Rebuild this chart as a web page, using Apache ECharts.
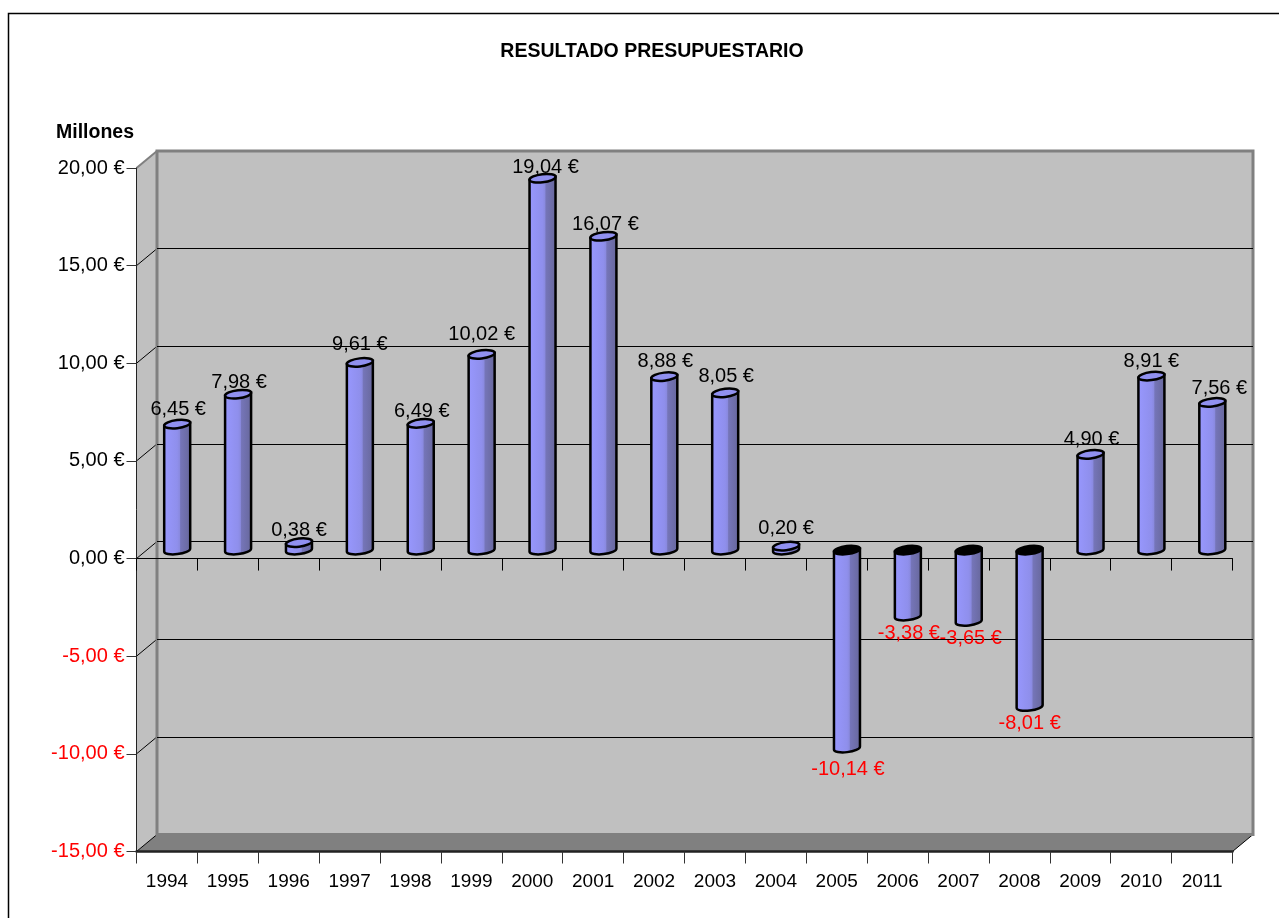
<!DOCTYPE html>
<html>
<head>
<meta charset="utf-8">
<title>Resultado presupuestario</title>
<style>
html, body { margin: 0; padding: 0; background: #fff; }
#chart { width: 1279px; height: 918px; }
</style>
<script src="https://cdn.jsdelivr.net/npm/echarts@6/dist/echarts.min.js"></script>
</head>
<body>
<div id="chart"></div>
<script>
var years = ['1994', '1995', '1996', '1997', '1998', '1999', '2000', '2001', '2002',
    '2003', '2004', '2005', '2006', '2007', '2008', '2009', '2010', '2011'];
var resultado = [6.45, 7.98, 0.38, 9.61, 6.49, 10.02, 19.04, 16.07, 8.88,
    8.05, 0.20, -10.14, -3.38, -3.65, -8.01, 4.90, 8.91, 7.56];
var axisValues = [20, 15, 10, 5, 0, -5, -10, -15];

// etiquetas: separacion respecto a la barra (px), el original no es regular
var labelGap = [16, 13, 13, 19, 13, 21, 12, 13, 16, 17, 19, 20, 16, 16, 16, 16, 16, 15];
var labelDx = [1, 1, 0, 0, 1, 0, 3, 2, 1, 1, 0, 1, 1, 2, 0, 1, 0, 7];

var FONT = '"Liberation Sans", Arial, sans-serif';
// fondo 3D: desplazamiento de la pared trasera respecto al plano frontal
var DEPTH_X = 20.5, DEPTH_Y = -17;
var GRID_LEFT = 136.5, GRID_TOP = 168, GRID_RIGHT = 46.5, GRID_BOTTOM = 66.5;

function euro(v) {
    return v.toFixed(2).replace('.', ',') + ' €';
}

function renderWalls(params, api) {
    var tl = api.coord([0, 20]), bl = api.coord([0, -15]);
    var left = params.coordSys.x, right = left + params.coordSys.width;
    var top = tl[1], bottom = bl[1];
    var children = [{
        type: 'polygon',
        shape: { points: [[left, top], [left + DEPTH_X, top + DEPTH_Y], [left + DEPTH_X, bottom + DEPTH_Y], [left, bottom]] },
        style: { fill: '#c0c0c0' }
    }, {
        type: 'polygon',
        shape: { points: [[left, bottom], [left + DEPTH_X, bottom + DEPTH_Y], [right + DEPTH_X, bottom + DEPTH_Y], [right, bottom]] },
        style: { fill: '#808080' }
    }, {
        type: 'line',
        shape: { x1: right, y1: bottom, x2: right + DEPTH_X, y2: bottom + DEPTH_Y },
        style: { stroke: '#000', lineWidth: 1 }
    }];
    axisValues.forEach(function (v) {
        var y = api.coord([0, v])[1];
        children.push({
            type: 'line',
            shape: { x1: left, y1: y, x2: left + DEPTH_X, y2: y + DEPTH_Y },
            style: { stroke: v === 20 ? '#808080' : '#000', lineWidth: v === 20 ? 2 : 1 }
        });
    });
    return { type: 'group', children: children };
}

function renderBar(params, api) {
    var i = api.value(0), v = api.value(1);
    var p = api.coord([i, v]), zero = api.coord([i, 0]);
    var cx = p[0] + DEPTH_X / 2;
    var yVal = p[1] + DEPTH_Y / 2, yZero = zero[1] + DEPTH_Y / 2;
    var yTop = Math.min(yVal, yZero), yBot = Math.max(yVal, yZero);
    var hw = 13, ry = 4, tilt = 1.5;
    var l = cx - hw, r = cx + hw;
    var body = 'M' + l + ' ' + (yTop + tilt)
        + 'L' + l + ' ' + (yBot + tilt)
        + 'A' + hw + ' ' + ry + ' -7 0 0 ' + r + ' ' + (yBot - tilt)
        + 'L' + r + ' ' + (yTop - tilt) + 'Z';
    var cap = 'M' + l + ' ' + (yTop + tilt)
        + 'A' + hw + ' ' + ry + ' -7 1 1 ' + r + ' ' + (yTop - tilt)
        + 'A' + hw + ' ' + ry + ' -7 1 1 ' + l + ' ' + (yTop + tilt) + 'Z';
    var neg = v < 0;
    return {
        type: 'group',
        children: [{
            type: 'path',
            shape: { pathData: body },
            style: {
                fill: new echarts.graphic.LinearGradient(0, 0, 1, 0, [
                    { offset: 0, color: '#9898ff' },
                    { offset: 0.5, color: '#8f8fec' },
                    { offset: 0.58, color: '#8a8ae0' },
                    { offset: 0.62, color: '#7575b8' },
                    { offset: 1, color: '#666699' }
                ]),
                stroke: '#000',
                lineWidth: 2.5
            }
        }, {
            type: 'path',
            shape: { pathData: cap },
            style: { fill: neg ? '#000' : '#9090f0', stroke: '#000', lineWidth: 2.5 }
        }, {
            type: 'text',
            x: cx + labelDx[i],
            y: (neg ? yBot + labelGap[i] : yTop - labelGap[i]) + 1,
            style: {
                text: euro(v),
                fill: neg ? '#ff0000' : '#000',
                font: '20px ' + FONT,
                textAlign: 'center',
                textVerticalAlign: 'middle'
            }
        }]
    };
}

var myChart = echarts.init(document.getElementById('chart'));
var option = {
    animation: false,
    backgroundColor: '#fff',
    title: [{
        text: 'RESULTADO PRESUPUESTARIO',
        left: 647,
        top: 37,
        textAlign: 'center',
        textStyle: { fontFamily: FONT, fontSize: 19.5, fontWeight: 'bold', color: '#000' }
    }, {
        text: 'Millones',
        left: 51,
        top: 118,
        textStyle: { fontFamily: FONT, fontSize: 19.5, fontWeight: 'bold', color: '#000' }
    }],
    graphic: [{
        type: 'polyline',
        z: 10,
        shape: { points: [[8.5, 918], [8.5, 13.5], [1279, 13.5]] },
        style: { fill: null, stroke: '#000', lineWidth: 1.5 }
    }],
    grid: [{
        left: GRID_LEFT, top: GRID_TOP, right: GRID_RIGHT, bottom: GRID_BOTTOM
    }, {
        // pared trasera
        show: true,
        left: GRID_LEFT + DEPTH_X, top: GRID_TOP + DEPTH_Y,
        right: GRID_RIGHT - DEPTH_X, bottom: GRID_BOTTOM - DEPTH_Y,
        backgroundColor: '#c0c0c0',
        borderColor: '#808080',
        borderWidth: 3
    }],
    xAxis: [{
        type: 'category',
        gridIndex: 0,
        data: years,
        position: 'bottom',
        axisLine: { onZero: false, lineStyle: { color: '#222', width: 2.5 } },
        axisTick: { show: true, length: 12, lineStyle: { color: '#333', width: 1 } },
        axisLabel: { interval: 0, margin: 21, color: '#000', fontFamily: FONT, fontSize: 19 },
        splitLine: { show: false }
    }, {
        // eje en el cero, con marcas y sin etiquetas
        type: 'category',
        gridIndex: 0,
        data: years,
        position: 'bottom',
        axisLine: { onZero: true, lineStyle: { color: '#000', width: 1 } },
        axisTick: { show: true, length: 12, lineStyle: { color: '#000', width: 1 } },
        axisLabel: { show: false },
        splitLine: { show: false }
    }, {
        type: 'category',
        gridIndex: 1,
        data: years,
        axisLine: { show: false },
        axisTick: { show: false },
        axisLabel: { show: false }
    }],
    yAxis: [{
        type: 'value',
        gridIndex: 0,
        min: -15,
        max: 20,
        interval: 5,
        axisLine: { show: true, onZero: false, lineStyle: { color: '#222', width: 1 } },
        axisTick: { show: true, length: 10, lineStyle: { color: '#333', width: 1 } },
        axisLabel: {
            margin: 12,
            fontFamily: FONT,
            fontSize: 20,
            padding: [6, 0, 0, 0],
            color: function (value) {
                return value < 0 ? '#ff0000' : '#000';
            },
            formatter: function (value) {
                return euro(value);
            }
        },
        splitLine: { show: false }
    }, {
        type: 'value',
        gridIndex: 1,
        min: -15,
        max: 20,
        interval: 5,
        axisLine: { show: false },
        axisTick: { show: false },
        axisLabel: { show: false },
        splitLine: { show: true, showMinLine: false, showMaxLine: false, lineStyle: { color: '#000', width: 1 } }
    }],
    series: [{
        name: 'paredes',
        type: 'custom',
        xAxisIndex: 0,
        yAxisIndex: 0,
        z: -1,
        silent: true,
        clip: false,
        renderItem: renderWalls,
        data: [0]
    }, {
        name: 'Resultado',
        type: 'custom',
        xAxisIndex: 0,
        yAxisIndex: 0,
        z: 5,
        clip: false,
        renderItem: renderBar,
        encode: { x: 0, y: 1 },
        data: resultado.map(function (v, i) { return [i, v]; })
    }]
};
myChart.setOption(option);
window.addEventListener('resize', function () {
    myChart.resize();
});
</script>
</body>
</html>
